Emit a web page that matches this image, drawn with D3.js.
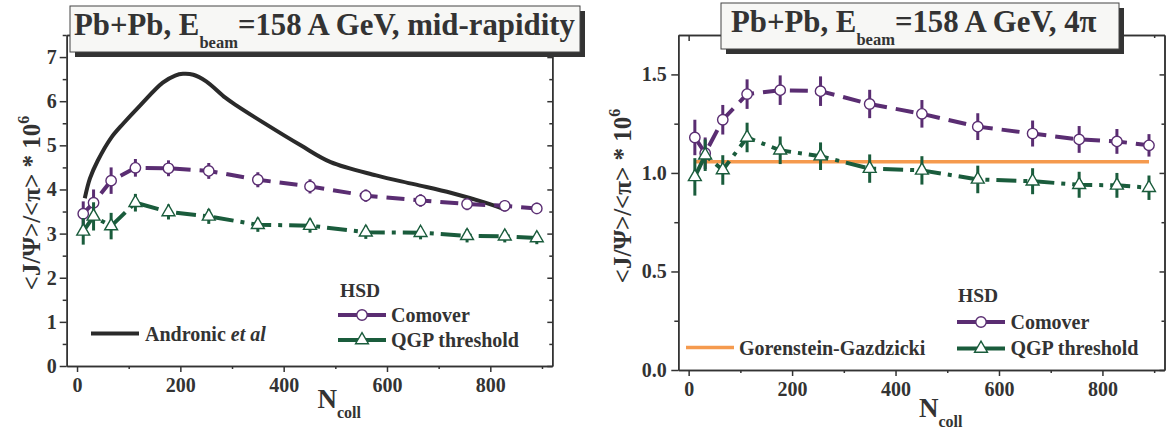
<!DOCTYPE html>
<html><head><meta charset="utf-8">
<script src="https://cdn.jsdelivr.net/npm/d3@7"></script>
<style>
html,body{margin:0;padding:0;background:#fff;}
svg{display:block;font-family:"Liberation Serif","Times New Roman",serif;font-weight:bold;}
svg text{font-family:"Liberation Serif","Times New Roman",serif;font-weight:bold;}
</style></head><body>
<svg id="chart" width="1166" height="435"></svg>
<script>
// Centrality bins (number of binary collisions), shared by both panels
const ncoll = [12, 32, 66, 113, 177, 255, 350, 451, 559, 665, 755, 828, 890];

// Mid-rapidity J/Psi to pion ratio (x 10^6), HSD
const comoverMid    = [3.45, 3.70, 4.20, 4.49, 4.48, 4.42, 4.22, 4.07, 3.86, 3.75, 3.67, 3.63, 3.57];
const comoverMidErr = [0.28, 0.30, 0.30, 0.20, 0.18, 0.18, 0.17, 0.16, 0.14, 0.14, 0.14, 0.13, 0.13];
const qgpMid        = [3.05, 3.39, 3.17, 3.70, 3.49, 3.39, 3.20, 3.18, 3.03, 3.02, 2.95, 2.94, 2.90];
const qgpMidErr     = [0.30, 0.32, 0.30, 0.20, 0.17, 0.17, 0.16, 0.16, 0.15, 0.15, 0.15, 0.14, 0.14];

// Statistical hadronization curve (Andronic et al)
const andronicN   = [15, 25, 40, 66, 90, 121, 166, 190, 205, 225, 250, 287, 309, 360, 433, 491, 579, 652, 725, 790, 827];
const andronicVal = [3.80, 4.25, 4.65, 5.17, 5.50, 5.89, 6.42, 6.58, 6.62, 6.60, 6.45, 6.08, 5.90, 5.52, 5.00, 4.62, 4.32, 4.12, 3.92, 3.70, 3.55];

// Full phase space (4pi) ratio (x 10^6), HSD
const comover4pi    = [1.18, 1.10, 1.27, 1.40, 1.42, 1.415, 1.35, 1.30, 1.235, 1.20, 1.17, 1.16, 1.14];
const comover4piErr = [0.090, 0.080, 0.075, 0.075, 0.075, 0.075, 0.072, 0.070, 0.068, 0.066, 0.068, 0.063, 0.057];
const qgp4pi        = [0.98, 1.09, 1.015, 1.18, 1.115, 1.085, 1.022, 1.013, 0.967, 0.958, 0.94, 0.937, 0.925];
const qgp4piErr     = [0.095, 0.080, 0.075, 0.075, 0.070, 0.070, 0.072, 0.072, 0.070, 0.066, 0.066, 0.063, 0.062];

// Gorenstein-Gazdzicki constant ratio
const gorensteinN   = [12, 890];
const gorensteinVal = [1.057, 1.057];

// Axis ticks
const nDomain   = [-20, 920];
const xMajor    = [0, 200, 400, 600, 800];
const xMinor    = [100, 300, 500, 700, 900];
const yMidMajor = [0, 1, 2, 3, 4, 5, 6, 7];
const yMidMinor = [0.5, 1.5, 2.5, 3.5, 4.5, 5.5, 6.5, 7.5];
const y4piMajor = [0, 0.5, 1.0, 1.5];
const y4piMinor = [0.25, 0.75, 1.25];

const SERIF = "Liberation Serif, Times New Roman, serif";
const INK = "#333333";
const PURPLE = "#5a2d72";
const GREEN = "#1a5c3c";
const BLACK = "#2a2a2a";
const ORANGE = "#f59a4e";

const svg = d3.select("#chart");

function styleAxis(sel) {
  sel.attr("font-family", null).attr("font-size", null);
  sel.select(".domain").attr("stroke", INK).attr("stroke-width", 1.5);
  sel.selectAll(".tick line").attr("stroke", INK).attr("stroke-width", 1.5);
  sel.selectAll(".tick text").attr("fill", INK).attr("font-size", 20)
    .attr("font-family", SERIF).attr("font-weight", "bold");
}

function drawPanel(p) {
  const g = svg.append("g");
  const x = d3.scaleLinear().domain(nDomain).range([p.left, p.right]);
  const y = d3.scaleLinear().domain([0, p.yMax]).range([p.bottom, p.top]);

  // bottom axis (outward ticks)
  g.append("g").attr("transform", `translate(0,${p.bottom})`)
    .call(d3.axisBottom(x).tickValues(xMajor).tickSize(6).tickSizeOuter(0).tickPadding(6).tickFormat(d3.format("d")))
    .call(styleAxis);
  g.append("g").attr("transform", `translate(0,${p.bottom})`)
    .call(d3.axisBottom(x).tickValues(xMinor).tickSize(3).tickSizeOuter(0).tickFormat(""))
    .call(styleAxis);
  // top axis (inward ticks)
  g.append("g").attr("transform", `translate(0,${p.top})`)
    .call(d3.axisBottom(x).tickValues(xMajor).tickSize(6).tickSizeOuter(0).tickFormat(""))
    .call(styleAxis);
  g.append("g").attr("transform", `translate(0,${p.top})`)
    .call(d3.axisBottom(x).tickValues(xMinor).tickSize(3).tickSizeOuter(0).tickFormat(""))
    .call(styleAxis);
  // left axis (outward ticks)
  g.append("g").attr("transform", `translate(${p.left},0)`)
    .call(d3.axisLeft(y).tickValues(p.yMajor).tickSize(7).tickSizeOuter(0).tickPadding(p.yPad).tickFormat(d3.format(p.yFmt)))
    .call(styleAxis);
  g.append("g").attr("transform", `translate(${p.left},0)`)
    .call(d3.axisLeft(y).tickValues(p.yMinor).tickSize(4).tickSizeOuter(0).tickFormat(""))
    .call(styleAxis);
  // right axis (inward ticks)
  g.append("g").attr("transform", `translate(${p.right},0)`)
    .call(d3.axisLeft(y).tickValues(p.yMajor).tickSize(5).tickSizeOuter(0).tickFormat(""))
    .call(styleAxis);
  g.append("g").attr("transform", `translate(${p.right},0)`)
    .call(d3.axisLeft(y).tickValues(p.yMinor).tickSize(3).tickSizeOuter(0).tickFormat(""))
    .call(styleAxis);

  return { g, x, y };
}

function drawSeries(P, vals, errs, color, dash, marker) {
  const pts = ncoll.map((n, i) => ({ n, v: vals[i], e: errs[i] }));
  P.g.append("g").selectAll("line").data(pts).join("line")
    .attr("x1", d => P.x(d.n)).attr("x2", d => P.x(d.n))
    .attr("y1", d => P.y(d.v - d.e)).attr("y2", d => P.y(d.v + d.e))
    .attr("stroke", color).attr("stroke-width", 3);
  P.g.append("path").datum(pts)
    .attr("d", d3.line().x(d => P.x(d.n)).y(d => P.y(d.v)))
    .attr("fill", "none").attr("stroke", color).attr("stroke-width", 4)
    .attr("stroke-dasharray", dash);
  drawMarkers(P.g, pts.map(d => [P.x(d.n), P.y(d.v)]), color, marker);
}

function drawMarkers(g, xy, color, marker) {
  if (marker === "circle") {
    g.append("g").selectAll("circle").data(xy).join("circle")
      .attr("cx", d => d[0]).attr("cy", d => d[1]).attr("r", 5.2)
      .attr("fill", "#fff").attr("stroke", color).attr("stroke-width", 1.4);
  } else {
    g.append("g").selectAll("path").data(xy).join("path")
      .attr("transform", d => `translate(${d[0]},${d[1]})`)
      .attr("d", d3.symbol(d3.symbolTriangle, 72))
      .attr("fill", "#fff").attr("stroke", color).attr("stroke-width", 1.4);
  }
}

function legendRow(g, x0, x1, y, color, marker, label, tx, ty, width) {
  g.append("line").attr("x1", x0).attr("x2", x1).attr("y1", y).attr("y2", y)
    .attr("stroke", color).attr("stroke-width", width || 4);
  if (marker) drawMarkers(g, [[(x0 + x1) / 2, y]], color, marker);
  const t = g.append("text").attr("x", tx).attr("y", ty).attr("font-size", 20)
    .attr("font-family", SERIF).attr("fill", INK);
  label.forEach(part => t.append("tspan").attr("font-style", part.italic ? "italic" : null).text(part.t));
}

function titleBox(x, y, w, h, tx, ty, tail) {
  svg.append("rect").attr("x", x + 5).attr("y", y + 5).attr("width", w).attr("height", h).attr("fill", "#333");
  svg.append("rect").attr("x", x).attr("y", y).attr("width", w).attr("height", h)
    .attr("fill", "#f7f7f5").attr("stroke", "#444").attr("stroke-width", 1);
  const t = svg.append("text").attr("x", tx).attr("y", ty).attr("font-size", 30.8)
    .attr("font-family", SERIF).attr("fill", INK);
  t.append("tspan").text("Pb+Pb, E");
  t.append("tspan").attr("font-size", 16.5).attr("dy", 13).text("beam");
  t.append("tspan").attr("dy", -13).text(tail);
}

function yLabel(x, y) {
  const t = svg.append("text").attr("transform", `translate(${x},${y}) rotate(-90)`)
    .attr("text-anchor", "middle").attr("font-size", 25).attr("font-family", SERIF).attr("fill", INK);
  t.append("tspan").text("<J/\u03A8>/<\u03C0> * 10");
  t.append("tspan").attr("font-size", 16).attr("dy", -11).text("6");
}

function xLabel(x, y) {
  const t = svg.append("text").attr("x", x).attr("y", y).attr("font-size", 27)
    .attr("font-family", SERIF).attr("fill", INK);
  t.append("tspan").text("N");
  t.append("tspan").attr("font-size", 16).attr("dy", 10).text("coll");
}

// ---- Left panel: mid-rapidity ----
const L = drawPanel({ left: 66.7, right: 552.3, top: 35, bottom: 366, yMax: 7.5,
  yMajor: yMidMajor, yMinor: yMidMinor, yFmt: "d", yPad: 3 });

L.g.append("path")
  .datum(andronicN.map((n, i) => [n, andronicVal[i]]))
  .attr("d", d3.line().x(d => L.x(d[0])).y(d => L.y(d[1])).curve(d3.curveCatmullRom.alpha(0.5)))
  .attr("fill", "none").attr("stroke", BLACK).attr("stroke-width", 4);

drawSeries(L, comoverMid, comoverMidErr, PURPLE, "18,9", "circle");
drawSeries(L, qgpMid, qgpMidErr, GREEN, "20,7,4,7", "triangle");

L.g.append("text").attr("x", 340).attr("y", 297).attr("font-size", 19.5)
  .attr("font-family", SERIF).attr("fill", INK).text("HSD");
legendRow(L.g, 338, 386, 315, PURPLE, "circle", [{ t: "Comover" }], 391, 321.5);
legendRow(L.g, 338, 386, 340, GREEN, "triangle", [{ t: "QGP threshold" }], 391, 346.5);
legendRow(L.g, 91, 139, 333.5, BLACK, null, [{ t: "Andronic " }, { t: "et al", italic: true }], 145, 340.5);

// ---- Right panel: 4pi ----
const R = drawPanel({ left: 678.3, right: 1164.5, top: 35, bottom: 370, yMax: 1.7,
  yMajor: y4piMajor, yMinor: y4piMinor, yFmt: ".1f", yPad: 4.5 });

R.g.append("path")
  .datum(gorensteinN.map((n, i) => [n, gorensteinVal[i]]))
  .attr("d", d3.line().x(d => R.x(d[0])).y(d => R.y(d[1])))
  .attr("fill", "none").attr("stroke", ORANGE).attr("stroke-width", 3.5);

drawSeries(R, comover4pi, comover4piErr, PURPLE, "18,9", "circle");
drawSeries(R, qgp4pi, qgp4piErr, GREEN, "20,7,4,7", "triangle");

R.g.append("text").attr("x", 958).attr("y", 302).attr("font-size", 19.5)
  .attr("font-family", SERIF).attr("fill", INK).text("HSD");
legendRow(R.g, 957, 1005, 322, PURPLE, "circle", [{ t: "Comover" }], 1010.5, 328.5);
legendRow(R.g, 957, 1005, 348.5, GREEN, "triangle", [{ t: "QGP threshold" }], 1010.5, 355);
legendRow(R.g, 686, 734, 347.5, ORANGE, null, [{ t: "Gorenstein-Gazdzicki" }], 739, 355, 3.5);

// ---- Titles and axis labels ----
titleBox(70, 6, 510, 46, 74, 35, "=158 A GeV, mid-rapidity");
titleBox(721, 3, 398, 46, 731, 32, "=158 A GeV, 4\u03C0");

yLabel(40, 203);
yLabel(631, 196);
xLabel(317.5, 408);
xLabel(919, 416.5);
</script>
</body></html>
